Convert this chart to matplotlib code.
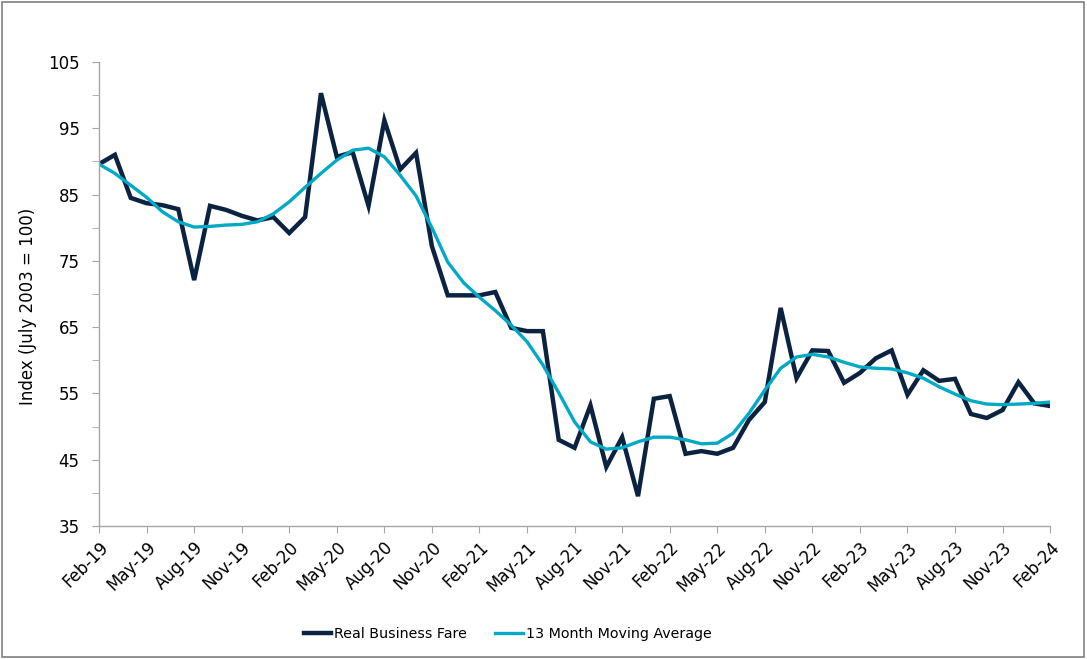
import matplotlib.pyplot as plt
from matplotlib.patches import Rectangle

plt.rcParams['font.family'] = ['DejaVu Sans']

# Monthly series, Feb-19 .. Feb-24
month_labels = ['Feb-19', 'May-19', 'Aug-19', 'Nov-19', 'Feb-20', 'May-20',
                'Aug-20', 'Nov-20', 'Feb-21', 'May-21', 'Aug-21', 'Nov-21',
                'Feb-22', 'May-22', 'Aug-22', 'Nov-22', 'Feb-23', 'May-23',
                'Aug-23', 'Nov-23', 'Feb-24']

real_fare = [89.6, 91.0, 84.5, 83.7, 83.4, 82.8, 72.1, 83.3, 82.7, 81.8,
             81.1, 81.6, 79.2, 81.6, 100.3, 90.7, 91.4, 83.3, 96.2, 88.8,
             91.3, 77.2, 69.8, 69.8, 69.8, 70.3, 64.9, 64.4, 64.4, 48.0,
             46.8, 53.2, 43.9, 48.4, 39.5, 54.2, 54.6, 45.9, 46.3, 45.9,
             46.8, 51.0, 53.7, 67.9, 57.3, 61.5, 61.4, 56.6, 58.1, 60.3,
             61.5, 54.8, 58.5, 56.9, 57.2, 51.9, 51.3, 52.5, 56.7, 53.5,
             53.1]

moving_avg = [89.6, 88.2, 86.4, 84.6, 82.4, 80.9, 80.1, 80.2, 80.4, 80.5,
              80.9, 82.1, 83.9, 86.1, 88.2, 90.2, 91.7, 92.0, 90.7, 87.9,
              84.8, 80.0, 74.8, 71.7, 69.5, 67.5, 65.3, 62.8, 59.3, 55.1,
              50.7, 47.7, 46.6, 46.8, 47.7, 48.4, 48.4, 48.0, 47.4, 47.5,
              49.0, 52.0, 55.5, 58.8, 60.5, 60.9, 60.5, 59.7, 59.0, 58.8,
              58.7, 58.1, 57.3, 56.0, 54.9, 53.9, 53.4, 53.3, 53.4, 53.5,
              53.7]

x = list(range(len(real_fare)))

fig = plt.figure(figsize=(10.87, 6.59), dpi=100)
ax = fig.add_axes([0.0911, 0.2018, 0.875, 0.7041])

ax.plot(x, real_fare, color='#0b2341', linewidth=3.2,
        solid_joinstyle='miter', label='Real Business Fare')
ax.plot(x, moving_avg, color='#00a9c4', linewidth=2.4,
        label='13 Month Moving Average')

ax.set_xlim(0, len(x) - 1)
ax.set_ylim(35, 105)
ax.set_yticks(range(35, 106, 10))
ax.set_yticks(range(40, 101, 10), minor=True)
ax.set_xticks(x[::3])
ax.set_xticklabels(month_labels)

for s in ['top', 'right']:
    ax.spines[s].set_visible(False)
for s in ['left', 'bottom']:
    ax.spines[s].set_color('#a6a6a6')
    ax.spines[s].set_linewidth(1.0)

ax.tick_params(axis='both', which='both', color='#a6a6a6', length=5,
               labelsize=12, labelcolor='black')
ax.tick_params(axis='y', pad=9)
ax.tick_params(axis='x', pad=4)
plt.setp(ax.get_xticklabels(), rotation=45, ha='right',
         rotation_mode='anchor')

ax.set_ylabel('Index (July 2003 = 100)', fontsize=12)
ax.yaxis.set_label_coords(-0.065, 0.474)

ax.legend(loc='center', bbox_to_anchor=(0.467, 0.038),
          bbox_transform=fig.transFigure, ncol=2,
          frameon=False, fontsize=10.3, handlelength=1.9, handletextpad=0.2,
          columnspacing=2.0)

fig.patches.append(Rectangle((0.002, 0.003), 0.995, 0.994,
                             transform=fig.transFigure, fill=False,
                             edgecolor='#808080', linewidth=1.2))

fig.savefig('out.png', dpi=100)
